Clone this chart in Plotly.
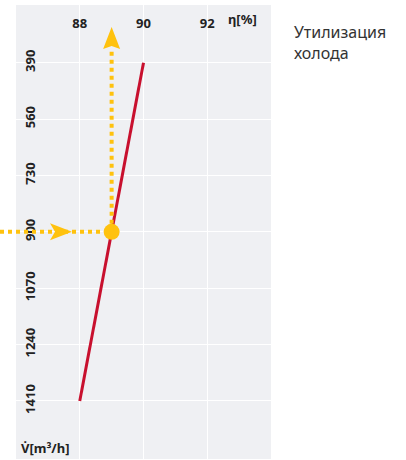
import plotly.graph_objects as go

# ---- data ----
flow_ticks = [390, 560, 730, 900, 1070, 1240, 1410]
eta_ticks = [88, 90, 92]
curve_flow = [390, 1410]
curve_eta = [90.0, 88.0]
op_flow = [900]
op_eta = [89.0]
legend_text = "Утилизация<br>холода"
x_title = "η[%]"
y_title = "V̇[m³/h]"

# ---- layout geometry ----
W, H = 406, 460
ML, MR, MT, MB = 16, 135, 5, 1
XR = [86, 94]
YR = [1585, 216]  # reversed
pw = W - ML - MR
ph = H - MT - MB
sx = pw / (XR[1] - XR[0])          # px per x unit
sy = ph / (YR[0] - YR[1])          # px per y unit

GOLD = "#ffc20e"
RED = "#c8102e"
TXT = dict(family="Noto Sans", size=13, color="#222")

fig = go.Figure()

# dotted guide lines
fig.add_shape(type="line", xref="paper", yref="y",
              x0=-ML / pw, x1=(op_eta[0] - XR[0]) / (XR[1] - XR[0]),
              y0=op_flow[0], y1=op_flow[0],
              line=dict(color=GOLD, width=4, dash="dot"), layer="above")
fig.add_shape(type="line", xref="x", yref="y",
              x0=op_eta[0], x1=op_eta[0], y0=op_flow[0], y1=op_flow[0] - 184 / sy,
              line=dict(color=GOLD, width=4, dash="dot"), layer="above")

# arrowheads (pixel-sized, converted to data units)
def head_right(tx, ty, L=22, hw=8.5, notch=5):
    dx = lambda p: p / sx
    dy = lambda p: p / sy
    return (f"M {tx},{ty} L {tx-dx(L)},{ty-dy(hw)} L {tx-dx(L-notch)},{ty} "
            f"L {tx-dx(L)},{ty+dy(hw)} Z")

def head_up(tx, ty, L=22, hw=8.5, notch=3):
    dx = lambda p: p / sx
    dy = lambda p: p / sy
    return (f"M {tx},{ty} L {tx-dx(hw)},{ty+dy(L)} L {tx},{ty+dy(L-notch)} "
            f"L {tx+dx(hw)},{ty+dy(L)} Z")

fig.add_shape(type="path", xref="x", yref="y",
              path=head_right(XR[0] + (72 - ML) / sx, op_flow[0]),
              fillcolor=GOLD, line=dict(width=0), layer="above")
fig.add_shape(type="path", xref="x", yref="y",
              path=head_up(op_eta[0], YR[1] + (27 - MT) / sy),
              fillcolor=GOLD, line=dict(width=0), layer="above")

fig.add_trace(go.Scatter(x=curve_eta, y=curve_flow, mode="lines",
                         line=dict(color=RED, width=3), showlegend=False,
                         hoverinfo="skip"))
fig.add_trace(go.Scatter(x=op_eta, y=op_flow, mode="markers",
                         marker=dict(color=GOLD, size=16), showlegend=False,
                         cliponaxis=False))

fig.update_xaxes(range=XR, side="top", tickvals=eta_ticks,
                 ticktext=[f"<b>{v}</b>" for v in eta_ticks],
                 ticklabelposition="inside", ticklabelstandoff=11,
                 tickfont=TXT, automargin=False,
                 showgrid=True, gridcolor="white", gridwidth=1.2,
                 zeroline=False, showline=False, ticks="")
fig.update_yaxes(range=YR, tickvals=flow_ticks,
                 ticktext=[f"<b>{v}</b>" for v in flow_ticks],
                 ticklabelposition="inside", tickangle=-90, ticklabelstandoff=0,
                 tickfont=TXT, automargin=False,
                 showgrid=True, gridcolor="white", gridwidth=1.2,
                 zeroline=False, showline=False, ticks="")

fig.add_annotation(xref="x", yref="paper", x=93.1, y=1 - 14 / ph,
                   text=f"<b>{x_title}</b>", showarrow=False, font=TXT,
                   xanchor="center", yanchor="middle")
fig.add_annotation(xref="paper", yref="paper", x=3 / pw, y=11 / ph,
                   text=f"<b>{y_title}</b>", showarrow=False, font=TXT,
                   xanchor="left", yanchor="middle")
fig.add_annotation(xref="paper", yref="paper", x=(292 - ML) / pw, y=1 - 14 / ph,
                   text=legend_text, showarrow=False, align="left",
                   font=dict(family="Noto Sans", size=16, color="#333"),
                   xanchor="left", yanchor="top")

fig.update_layout(width=W, height=H,
                  margin=dict(l=ML, r=MR, t=MT, b=MB, pad=0, autoexpand=False),
                  plot_bgcolor="#eff0f3", paper_bgcolor="white",
                  showlegend=False)

fig.write_html("out.html", config={"displayModeBar": False},
               post_script="document.body.style.margin='0';document.body.style.overflow='hidden';")
